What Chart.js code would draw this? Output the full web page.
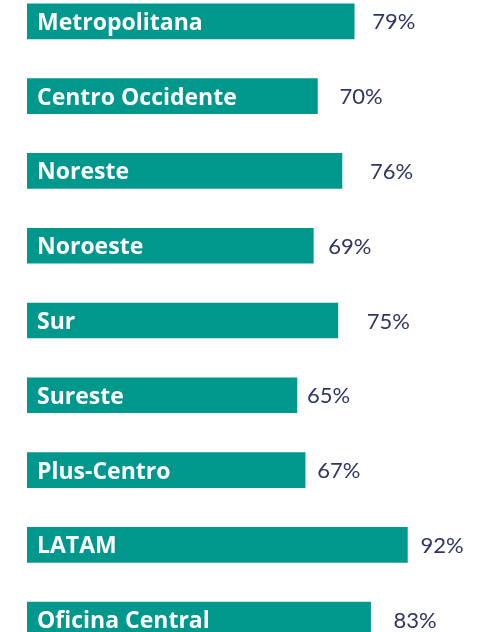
<!DOCTYPE html>
<html lang="es">
<head>
    <meta charset="UTF-8">
    <title>Regiones</title>
    <script src="https://cdn.jsdelivr.net/npm/chart.js"></script>
    <style>
        html, body {
            margin: 0;
            padding: 0;
            background: #ffffff;
            overflow: hidden;
        }
        .chart-box {
            position: absolute;
            left: 0;
            top: -16px;
            width: 490px;
            height: 673px;
        }
    </style>
</head>
<body>
    <div class="chart-box">
        <canvas id="regionChart"></canvas>
    </div>

    <script>
        // Datos
        const regions = ["Metropolitana", "Centro Occidente", "Noreste", "Noroeste", "Sur",
                         "Sureste", "Plus-Centro", "LATAM", "Oficina Central"];
        const percentages = [79, 70, 76, 69, 75, 65, 67, 92, 83];

        // separacion entre barra y porcentaje (px)
        const valueGap = [18, 22, 28, 15, 29, 10, 12, 13, 23];

        const teal = "#00978c";
        const navy = "#2f3667";

        // etiquetas dentro de la barra y porcentaje a la derecha
        const barLabels = {
            id: "barLabels",
            afterDatasetsDraw(chart) {
                const ctx = chart.ctx;
                const meta = chart.getDatasetMeta(0);
                ctx.save();
                ctx.textBaseline = "middle";
                meta.data.forEach((bar, i) => {
                    ctx.fillStyle = "#ffffff";
                    ctx.font = "bold 23px 'Open Sans'";
                    ctx.textAlign = "left";
                    ctx.fillText(regions[i], bar.base + 10, bar.y + 2);

                    ctx.fillStyle = navy;
                    ctx.font = "22px Lato";
                    ctx.fillText(percentages[i] + "%", bar.x + valueGap[i], bar.y + 1);
                });
                ctx.restore();
            }
        };

        new Chart(document.getElementById("regionChart"), {
            type: "bar",
            data: {
                labels: regions,
                datasets: [{
                    data: percentages,
                    backgroundColor: teal,
                    borderWidth: 0,
                    barThickness: 35,
                    base: -1
                }]
            },
            options: {
                indexAxis: "y",
                responsive: true,
                maintainAspectRatio: false,
                animation: false,
                layout: { padding: { left: 27, right: 0, top: 0, bottom: 0 } },
                plugins: {
                    legend: { display: false },
                    tooltip: { enabled: false }
                },
                scales: {
                    x: { display: false, min: -1, max: 112.2 },
                    y: { display: false }
                }
            },
            plugins: [barLabels]
        });
    </script>
</body>
</html>
